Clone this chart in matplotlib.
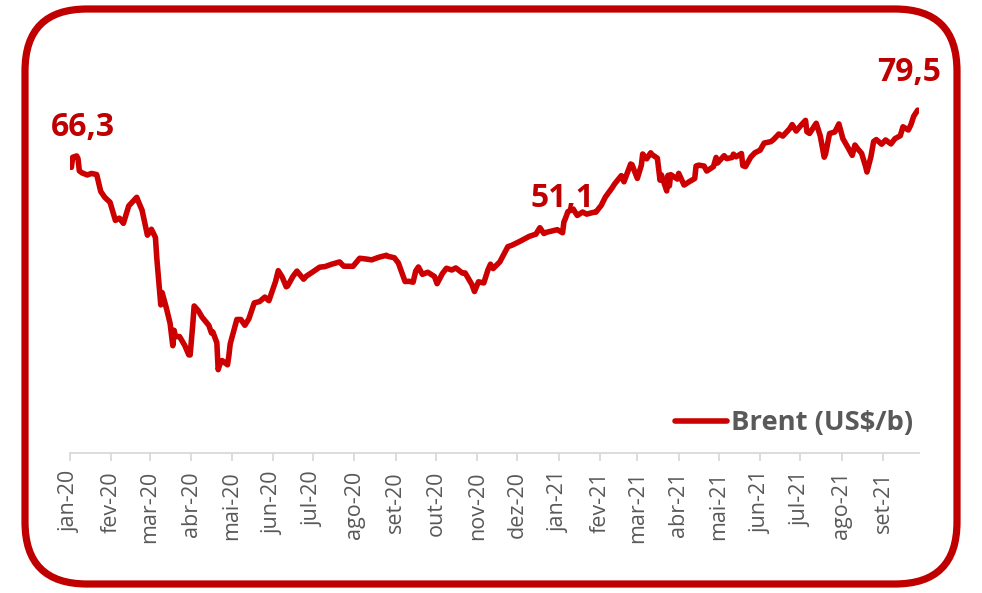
import matplotlib
matplotlib.use("Agg")
import matplotlib.pyplot as plt
import matplotlib.dates as mdates
from matplotlib.patches import FancyBboxPatch
import numpy as np
import datetime as dt

# ---- data ----
dates = [
    "2020-01-02","2020-01-03","2020-01-06","2020-01-07","2020-01-08","2020-01-10","2020-01-14","2020-01-17",
    "2020-01-21","2020-01-23","2020-01-24","2020-01-27","2020-01-31","2020-02-04","2020-02-07","2020-02-10",
    "2020-02-14","2020-02-20","2020-02-21","2020-02-24","2020-02-28","2020-03-02","2020-03-05","2020-03-06",
    "2020-03-09","2020-03-10","2020-03-13","2020-03-16","2020-03-18","2020-03-19","2020-03-20","2020-03-23",
    "2020-03-27","2020-03-30","2020-03-31","2020-04-02","2020-04-03","2020-04-06","2020-04-09","2020-04-14",
    "2020-04-16","2020-04-17","2020-04-20","2020-04-21","2020-04-22","2020-04-24","2020-04-28","2020-04-29",
    "2020-04-30","2020-05-01","2020-05-05","2020-05-08","2020-05-11","2020-05-14","2020-05-18","2020-05-22",
    "2020-05-26","2020-05-29","2020-06-03","2020-06-05","2020-06-08","2020-06-11","2020-06-12","2020-06-16",
    "2020-06-19","2020-06-24","2020-06-26","2020-07-01","2020-07-06","2020-07-10","2020-07-15","2020-07-21",
    "2020-07-24","2020-07-31","2020-08-05","2020-08-10","2020-08-14","2020-08-19","2020-08-25","2020-08-26",
    "2020-08-31","2020-09-03","2020-09-08","2020-09-11","2020-09-14","2020-09-16","2020-09-18","2020-09-21",
    "2020-09-25","2020-09-30","2020-10-02","2020-10-06","2020-10-09","2020-10-13","2020-10-16","2020-10-21",
    "2020-10-23","2020-10-28","2020-10-30","2020-11-02","2020-11-06","2020-11-09","2020-11-11","2020-11-13",
    "2020-11-18","2020-11-24","2020-11-27","2020-12-04","2020-12-10","2020-12-15","2020-12-18","2020-12-21",
    "2020-12-23","2020-12-31",
    "2021-01-04","2021-01-05","2021-01-06","2021-01-08","2021-01-12","2021-01-13","2021-01-15","2021-01-19",
    "2021-01-22","2021-01-27","2021-01-29","2021-02-02","2021-02-05","2021-02-10","2021-02-12","2021-02-17",
    "2021-02-19","2021-02-24","2021-02-25","2021-03-01","2021-03-04","2021-03-05","2021-03-08","2021-03-11",
    "2021-03-12","2021-03-16","2021-03-18","2021-03-19","2021-03-23","2021-03-24","2021-03-25","2021-03-26",
    "2021-03-31","2021-04-01","2021-04-05","2021-04-09","2021-04-13","2021-04-14","2021-04-16","2021-04-20",
    "2021-04-22","2021-04-27","2021-04-29","2021-04-30","2021-05-05","2021-05-07","2021-05-11","2021-05-12",
    "2021-05-14","2021-05-18","2021-05-19","2021-05-21","2021-05-25","2021-05-28","2021-06-01","2021-06-04",
    "2021-06-09","2021-06-11","2021-06-15","2021-06-18","2021-06-23","2021-06-25","2021-06-28","2021-07-02",
    "2021-07-05","2021-07-06","2021-07-08","2021-07-13","2021-07-16","2021-07-19","2021-07-20","2021-07-23",
    "2021-07-27","2021-07-30","2021-08-02","2021-08-05","2021-08-09","2021-08-11","2021-08-13","2021-08-16",
    "2021-08-19","2021-08-20","2021-08-23","2021-08-25","2021-08-27","2021-08-31","2021-09-03","2021-09-07",
    "2021-09-10","2021-09-14","2021-09-16","2021-09-20","2021-09-22","2021-09-24","2021-09-27",
]
brent = [
    66.25,68.60,68.91,68.27,65.44,64.98,64.49,64.85,
    64.59,62.04,60.69,59.32,58.16,53.96,54.47,53.27,
    57.32,59.31,58.50,56.30,50.52,51.90,49.99,45.27,
    34.36,37.22,33.85,30.05,24.88,28.47,26.98,27.03,
    24.93,22.76,22.74,29.94,34.11,33.05,31.48,29.60,
    27.82,28.08,25.57,19.33,20.37,21.44,20.46,22.54,
    25.27,26.44,30.97,30.97,29.63,31.13,34.81,35.13,
    36.17,35.33,39.79,42.30,40.80,38.55,38.73,40.96,
    42.19,40.31,41.02,42.03,43.10,43.24,43.79,44.32,
    43.34,43.30,45.17,44.99,44.80,45.37,45.86,45.64,
    45.28,44.07,39.78,39.83,39.61,42.22,43.15,41.44,
    41.92,40.95,39.27,41.65,42.85,42.45,42.93,41.73,
    41.77,39.12,37.46,39.71,39.45,42.40,43.80,42.78,
    44.34,47.86,48.18,49.25,50.25,50.76,52.26,50.91,
    51.20,51.80,
    51.09,53.60,54.30,55.99,56.58,56.06,55.10,55.90,
    55.41,55.81,55.88,57.46,59.34,61.47,62.43,64.34,
    62.91,67.04,66.88,63.69,66.74,69.36,68.24,69.63,
    69.22,68.39,63.28,64.53,60.79,64.41,61.95,64.57,
    63.54,64.86,62.15,62.95,63.67,66.58,66.77,66.57,
    65.40,66.42,68.56,67.25,68.96,68.28,68.55,69.32,
    68.71,69.46,66.66,66.44,68.65,69.63,70.25,71.89,
    72.22,72.69,73.99,73.51,75.19,76.18,74.68,76.17,
    77.16,74.53,74.12,76.49,73.59,68.62,69.35,74.10,
    74.48,76.33,72.89,71.29,69.04,71.44,70.59,69.51,
    66.45,65.18,68.75,72.25,72.70,71.63,72.61,71.69,
    72.92,73.60,75.67,74.92,76.19,78.09,79.53,
]
tick_dates = ["2020-01-01","2020-02-01","2020-03-01","2020-04-01","2020-05-01","2020-06-01","2020-07-01",
              "2020-08-01","2020-09-01","2020-10-01","2020-11-01","2020-12-01","2021-01-01","2021-02-01",
              "2021-03-01","2021-04-01","2021-05-01","2021-06-01","2021-07-01","2021-08-01","2021-09-01"]
tick_labels = ["jan-20","fev-20","mar-20","abr-20","mai-20","jun-20","jul-20","ago-20","set-20","out-20",
               "nov-20","dez-20","jan-21","fev-21","mar-21","abr-21","mai-21","jun-21","jul-21","ago-21","set-21"]
label_points = [("2020-01-02", 66.25, "66,3"), ("2021-01-04", 51.09, "51,1"), ("2021-09-27", 79.53, "79,5")]
series_name = "Brent (US\\$/b)"

RED = "#CC0000"
DARKRED = "#C00000"
GRAY = "#595959"

def to_num(s):
    return mdates.date2num(dt.datetime.strptime(s, "%Y-%m-%d"))

x = np.array([to_num(d) for d in dates])
y = np.array(brent)

plt.rcParams['font.family'] = ['Open Sans', 'DejaVu Sans']

W, H = 982, 593
fig = plt.figure(figsize=(W/100, H/100), dpi=100)

# rounded border
bg = fig.add_axes([0, 0, 1, 1])
bg.set_xlim(0, W)
bg.set_ylim(0, H)
bg.axis("off")
r = 62
box = FancyBboxPatch((25 + r, 9 + r), W - 50 - 2*r, H - 18 - 2*r,
                     boxstyle=f"round,pad={r}", fc="white", ec=DARKRED, lw=5.2)
bg.add_patch(box)

left, right = 70, 919
bottom_px, top_px = 453, 65
ax = fig.add_axes([left/W, 1 - bottom_px/H, (right-left)/W, (bottom_px-top_px)/H])
ax.patch.set_alpha(0)
ax.plot(x, y, color=RED, lw=4.0, solid_joinstyle="round", solid_capstyle="round", label=series_name)

ax.set_xlim(to_num("2020-01-01"), to_num("2021-09-28"))
ax.set_ylim(0, 90)
ax.set_xticks([to_num(d) for d in tick_dates])
ax.set_xticklabels(tick_labels, rotation=90, color=GRAY, fontsize=15.5)
ax.set_yticks([])
for s in ["top", "right", "left"]:
    ax.spines[s].set_visible(False)
ax.spines["bottom"].set_color("#D9D9D9")
ax.spines["bottom"].set_linewidth(1.3)
ax.tick_params(axis="x", length=6, width=1.3, color="#D9D9D9", pad=7)

offsets = [(8, 29), (0, 25), (-6, 27)]
for (d, v, t), off in zip(label_points, offsets):
    ax.annotate(t, (to_num(d), v), xytext=off, textcoords="offset points",
                ha="center", va="center", fontsize=23, fontweight="bold", color=DARKRED)

leg = ax.legend(loc="center right", bbox_to_anchor=(0.993, 0.077), frameon=False,
                borderpad=0, borderaxespad=0, handlelength=1.9, handletextpad=0.15,
                prop={"size": 19.7, "weight": "bold"})
for t in leg.get_texts():
    t.set_color(GRAY)
for h in leg.get_lines():
    h.set_linewidth(4.0)

fig.savefig("out.png", dpi=100)
